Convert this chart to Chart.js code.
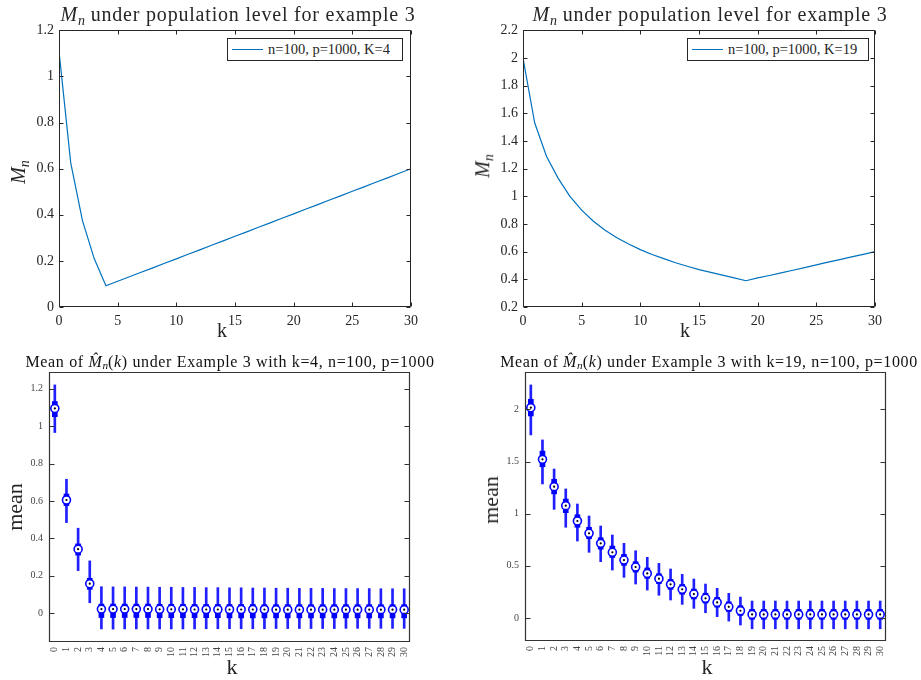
<!DOCTYPE html>
<html>
<head>
<meta charset="utf-8">
<script src="https://cdn.jsdelivr.net/npm/chart.js@4.4.1/dist/chart.umd.min.js"></script>
<style>
  body { margin: 0; background: #fff; }
  #page { position: relative; width: 921px; height: 680px; overflow: hidden; font-family: "Liberation Serif", "DejaVu Serif", serif; color: #262626; }
  canvas { position: absolute; }
  .txt { position: absolute; white-space: nowrap; transform: translate(-50%, -50%); }
  .rot { transform: translate(-50%, -50%) rotate(-90deg); }
  .ttl { font-size: 20px; letter-spacing: 0.8px; }
  .ttl2 { font-size: 16px; letter-spacing: 0.65px; color: #111; }
  sub { font-size: 70%; vertical-align: -0.25em; letter-spacing: 0; }
  .legend { position: absolute; border: 1px solid #262626; background: #fff; height: 23px; box-sizing: border-box; display: flex; align-items: center; font-size: 14.5px; }
  .legend .sw { display: inline-block; width: 31px; border-top: 1.3px solid #0072bd; margin: 0 5px 0 4px; }
</style>
</head>
<body>
<div id="page">
  <canvas id="c1"></canvas>
  <canvas id="c2"></canvas>
  <canvas id="c3"></canvas>
  <canvas id="c4"></canvas>

  <div class="txt ttl" style="left:238px; top:16px;"><i>M</i><sub><i>n</i></sub> under population level for example 3</div>
  <div class="txt ttl" style="left:710px; top:16px;"><i>M</i><sub><i>n</i></sub> under population level for example 3</div>
  <div class="txt" style="left:222px; top:330px; font-size:20px;">k</div>
  <div class="txt" style="left:685px; top:330px; font-size:20px;">k</div>
  <div class="txt rot" style="left:20px; top:172px; font-size:20px;"><i>M</i><sub><i>n</i></sub></div>
  <div class="txt rot" style="left:484px; top:166px; font-size:20px;"><i>M</i><sub><i>n</i></sub></div>

  <div class="legend" style="left:227px; top:38px; width:176px;"><span class="sw"></span>n=100, p=1000, K=4</div>
  <div class="legend" style="left:687px; top:38px; width:182px;"><span class="sw"></span>n=100, p=1000, K=19</div>

  <div class="txt ttl2" style="left:230px; top:362px;">Mean of <i>M&#770;</i><sub><i>n</i></sub>(<i>k</i>) under Example 3 with k=4, n=100, p=1000</div>
  <div class="txt ttl2" style="left:709px; top:362px;">Mean of <i>M&#770;</i><sub><i>n</i></sub>(<i>k</i>) under Example 3 with k=19, n=100, p=1000</div>
  <div class="txt rot" style="left:15px; top:507px; font-size:22px;">mean</div>
  <div class="txt rot" style="left:491px; top:500px; font-size:22px;">mean</div>
  <div class="txt" style="left:232px; top:667px; font-size:22px;">k</div>
  <div class="txt" style="left:707px; top:667px; font-size:22px;">k</div>
</div>

<script>
// k = 0..30
const kValues = [0, 1, 2, 3, 4, 5, 6, 7, 8, 9, 10, 11, 12, 13, 14, 15, 16, 17, 18, 19, 20, 21, 22, 23, 24, 25, 26, 27, 28, 29, 30];
const kLabels = ['0', '1', '2', '3', '4', '5', '6', '7', '8', '9', '10', '11', '12', '13', '14', '15', '16', '17', '18', '19', '20', '21', '22', '23', '24', '25', '26', '27', '28', '29', '30'];

// population level M_n, K=4 and K=19
const mnK4 = [1.11, 0.625, 0.375, 0.21, 0.092, 0.112, 0.131, 0.151, 0.170, 0.190, 0.209, 0.229, 0.248, 0.268, 0.287, 0.307, 0.326, 0.346, 0.365, 0.385, 0.404, 0.424, 0.443, 0.463, 0.482, 0.502, 0.521, 0.541, 0.560, 0.580, 0.600];
const mnK19 = [2.00, 1.53, 1.29, 1.13, 1.00, 0.90, 0.82, 0.755, 0.70, 0.655, 0.615, 0.58, 0.55, 0.52, 0.495, 0.47, 0.45, 0.43, 0.41, 0.39, 0.41, 0.428, 0.447, 0.466, 0.485, 0.504, 0.524, 0.543, 0.562, 0.581, 0.60];

// boxplot summaries, k=4
const medK4 = [1.095, 0.605, 0.342, 0.157, 0.021, 0.021, 0.021, 0.021, 0.021, 0.020, 0.020, 0.020, 0.019, 0.019, 0.019, 0.019, 0.019, 0.019, 0.019, 0.018, 0.018, 0.018, 0.018, 0.018, 0.018, 0.018, 0.018, 0.018, 0.018, 0.018, 0.018];
const q1K4 = [1.051, 0.575, 0.310, 0.127, -0.024, -0.024, -0.024, -0.024, -0.024, -0.025, -0.025, -0.025, -0.025, -0.025, -0.025, -0.026, -0.026, -0.026, -0.026, -0.026, -0.026, -0.026, -0.026, -0.026, -0.026, -0.026, -0.026, -0.026, -0.026, -0.026, -0.026];
const q3K4 = [1.132, 0.637, 0.370, 0.186, 0.048, 0.048, 0.048, 0.048, 0.048, 0.047, 0.047, 0.047, 0.046, 0.046, 0.046, 0.046, 0.046, 0.046, 0.045, 0.045, 0.045, 0.045, 0.045, 0.045, 0.045, 0.045, 0.045, 0.045, 0.045, 0.045, 0.045];
const loK4 = [0.966, 0.484, 0.227, 0.055, -0.085, -0.086, -0.085, -0.085, -0.085, -0.085, -0.085, -0.085, -0.085, -0.084, -0.084, -0.084, -0.084, -0.084, -0.084, -0.083, -0.083, -0.083, -0.083, -0.083, -0.083, -0.082, -0.082, -0.082, -0.082, -0.082, -0.082];
const hiK4 = [1.221, 0.716, 0.454, 0.279, 0.141, 0.140, 0.140, 0.139, 0.139, 0.138, 0.138, 0.137, 0.137, 0.136, 0.136, 0.135, 0.135, 0.134, 0.134, 0.133, 0.133, 0.132, 0.132, 0.132, 0.131, 0.131, 0.131, 0.131, 0.130, 0.130, 0.130];

// boxplot summaries, k=19
const medK19 = [2.016, 1.521, 1.259, 1.077, 0.930, 0.812, 0.716, 0.630, 0.556, 0.489, 0.428, 0.377, 0.323, 0.275, 0.230, 0.189, 0.150, 0.108, 0.070, 0.035, 0.035, 0.035, 0.035, 0.035, 0.035, 0.035, 0.035, 0.035, 0.035, 0.035, 0.035];
const q1K19 = [1.937, 1.450, 1.190, 1.010, 0.870, 0.760, 0.660, 0.580, 0.505, 0.440, 0.380, 0.330, 0.275, 0.228, 0.183, 0.143, 0.104, 0.063, 0.025, -0.012, -0.012, -0.012, -0.012, -0.012, -0.012, -0.012, -0.012, -0.012, -0.012, -0.012, -0.012];
const q3K19 = [2.097, 1.600, 1.330, 1.140, 0.990, 0.870, 0.770, 0.690, 0.610, 0.540, 0.480, 0.425, 0.370, 0.322, 0.278, 0.238, 0.198, 0.156, 0.118, 0.083, 0.083, 0.083, 0.083, 0.083, 0.083, 0.083, 0.083, 0.083, 0.083, 0.083, 0.083];
const loK19 = [1.755, 1.285, 1.042, 0.870, 0.738, 0.630, 0.540, 0.460, 0.390, 0.326, 0.268, 0.218, 0.173, 0.131, 0.093, 0.051, 0.013, -0.029, -0.067, -0.103, -0.103, -0.103, -0.103, -0.103, -0.103, -0.103, -0.103, -0.103, -0.103, -0.103, -0.103];
const hiK19 = [2.234, 1.707, 1.428, 1.237, 1.093, 0.978, 0.882, 0.796, 0.716, 0.645, 0.582, 0.524, 0.470, 0.419, 0.374, 0.326, 0.285, 0.237, 0.201, 0.163, 0.163, 0.163, 0.163, 0.163, 0.163, 0.163, 0.163, 0.163, 0.163, 0.163, 0.163];

// tick labels
const xTicksTop = [0, 5, 10, 15, 20, 25, 30];
const yTicksTL = [0, 0.2, 0.4, 0.6, 0.8, 1, 1.2];
const yTicksTR = [0.2, 0.4, 0.6, 0.8, 1, 1.2, 1.4, 1.6, 1.8, 2, 2.2];
const yTicksBL = [0, 0.2, 0.4, 0.6, 0.8, 1, 1.2];
const yTicksBR = [0, 0.5, 1, 1.5, 2];

const AXW = 50, PADT = 12, PADR = 20;
const SERIF = '"Liberation Serif", "DejaVu Serif", serif';
const fmt = v => String(Math.round(v * 10) / 10);

function mountCanvas(id, area, xh) {
    const c = document.getElementById(id);
    c.width = area.r - area.l + AXW + PADR;
    c.height = area.b - area.t + PADT + xh;
    c.style.left = (area.l - AXW) + 'px';
    c.style.top = (area.t - PADT) + 'px';
    return c;
}

// box around the axes with inward tick marks, matlab style
const framePlugin = {
    id: 'frame',
    afterDraw(chart, args, opts) {
        const { ctx, chartArea: a, scales } = chart;
        ctx.save();
        ctx.strokeStyle = opts.color;
        ctx.lineWidth = opts.width;
        ctx.beginPath();
        const l = Math.round(a.left) + 0.5, r = Math.round(a.right) - 0.5;
        const t = Math.round(a.top) + 0.5, b = Math.round(a.bottom) - 0.5;
        ctx.rect(l, t, r - l, b - t);
        scales.y.ticks.forEach(tk => {
            const y = Math.round(scales.y.getPixelForValue(tk.value)) + 0.5;
            ctx.moveTo(l, y); ctx.lineTo(l + opts.tick, y);
            ctx.moveTo(r, y); ctx.lineTo(r - opts.tick, y);
        });
        if (opts.xTicks) {
            scales.x.ticks.forEach(tk => {
                const x = Math.round(scales.x.getPixelForValue(tk.value)) + 0.5;
                ctx.moveTo(x, b); ctx.lineTo(x, b - opts.tick);
                ctx.moveTo(x, t); ctx.lineTo(x, t + opts.tick);
            });
        }
        ctx.stroke();
        ctx.restore();
    }
};

function lineChart(id, area, values, yMin, yMax, yTicks) {
    return new Chart(mountCanvas(id, area, 30), {
        type: 'line',
        data: {
            datasets: [{
                data: kValues.map((k, i) => ({ x: k, y: values[i] })),
                borderColor: '#0072bd',
                borderWidth: 1.2,
                pointRadius: 0,
                tension: 0
            }]
        },
        options: {
            responsive: false,
            animation: false,
            layout: { padding: { top: PADT, right: PADR, left: 0, bottom: 0 } },
            plugins: {
                legend: { display: false },
                tooltip: { enabled: false },
                frame: { color: '#262626', width: 1, tick: 4, xTicks: true }
            },
            scales: {
                x: {
                    type: 'linear', min: 0, max: 30,
                    afterBuildTicks: s => { s.ticks = xTicksTop.map(v => ({ value: v })); },
                    afterFit: s => { s.height = 30; },
                    grid: { display: false, drawTicks: false },
                    border: { display: false },
                    ticks: { font: { family: SERIF, size: 14 }, color: '#262626', padding: 6, maxRotation: 0, callback: fmt }
                },
                y: {
                    min: yMin, max: yMax,
                    afterBuildTicks: s => { s.ticks = yTicks.map(v => ({ value: v })); },
                    afterFit: s => { s.width = AXW; },
                    grid: { display: false, drawTicks: false },
                    border: { display: false },
                    ticks: { font: { family: SERIF, size: 14 }, color: '#262626', padding: 5, callback: fmt }
                }
            }
        },
        plugins: [framePlugin]
    });
}

function boxChart(id, area, med, q1, q3, lo, hi, yMin, yMax, yTicks) {
    return new Chart(mountCanvas(id, area, 40), {
        type: 'bar',
        data: {
            labels: kLabels,
            datasets: [
                { type: 'bar', data: lo.map((v, i) => [v, hi[i]]), backgroundColor: '#1f1fff', barThickness: 2, grouped: false, order: 4 },
                { type: 'bar', data: q1.map((v, i) => [v, q3[i]]), backgroundColor: '#0000ff', barThickness: 5, grouped: false, order: 3 },
                { type: 'line', data: med, showLine: false, pointRadius: 4, pointBorderWidth: 1.6, pointBorderColor: '#0000ff', pointBackgroundColor: '#ffffff', order: 2 },
                { type: 'line', data: med, showLine: false, pointRadius: 1.1, pointBorderWidth: 0, pointBackgroundColor: '#000000', order: 1 }
            ]
        },
        options: {
            responsive: false,
            animation: false,
            layout: { padding: { top: PADT, right: PADR, left: 0, bottom: 0 } },
            plugins: {
                legend: { display: false },
                tooltip: { enabled: false },
                frame: { color: '#333333', width: 1.2, tick: 5, xTicks: false }
            },
            scales: {
                x: {
                    offset: true,
                    afterFit: s => { s.height = 40; },
                    grid: { display: false, drawTicks: false },
                    border: { display: false },
                    ticks: { font: { family: SERIF, size: 10 }, color: '#444', padding: 5, minRotation: 90, maxRotation: 90, autoSkip: false }
                },
                y: {
                    min: yMin, max: yMax,
                    afterBuildTicks: s => { s.ticks = yTicks.map(v => ({ value: v })); },
                    afterFit: s => { s.width = AXW; },
                    grid: { display: false, drawTicks: false },
                    border: { display: false },
                    ticks: { font: { family: SERIF, size: 10 }, color: '#444', padding: 6, callback: fmt }
                }
            }
        },
        plugins: [framePlugin]
    });
}

lineChart('c1', { l: 59, t: 29, r: 411, b: 307 }, mnK4, 0, 1.2, yTicksTL);
lineChart('c2', { l: 523, t: 29, r: 875, b: 307 }, mnK19, 0.2, 2.2, yTicksTR);
boxChart('c3', { l: 49, t: 372, r: 410, b: 642 }, medK4, q1K4, q3K4, loK4, hiK4, -0.155, 1.29, yTicksBL);
boxChart('c4', { l: 525, t: 372, r: 886, b: 641 }, medK19, q1K19, q3K19, loK19, hiK19, -0.22, 2.358, yTicksBR);
</script>
</body>
</html>
